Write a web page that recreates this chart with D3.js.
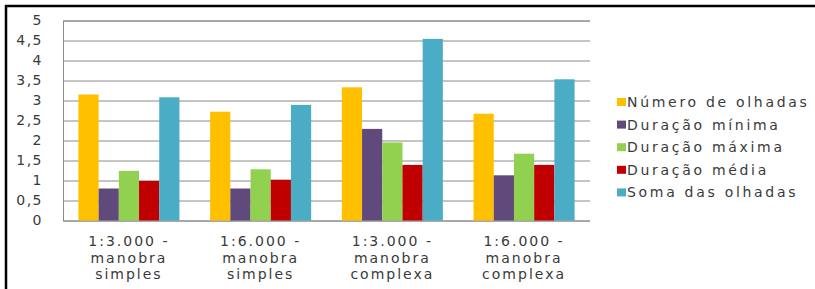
<!DOCTYPE html>
<html>
<head>
<meta charset="utf-8">
<script src="https://cdn.jsdelivr.net/npm/d3@7"></script>
<style>
  body { margin: 0; background: #fff; }
  svg { display: block; }
  text { font-family: "DejaVu Sans", Verdana, sans-serif; fill: #3a3a3a; }
</style>
</head>
<body>
<section></section>
<script>
"use strict";

//Chart size
const w = 815;
const h = 289;

//Data
const groups = [
  ["1:3.000 -", "manobra", "simples"],
  ["1:6.000 -", "manobra", "simples"],
  ["1:3.000 -", "manobra", "complexa"],
  ["1:6.000 -", "manobra", "complexa"],
];
const seriesNames = [
  "Número de olhadas",
  "Duração mínima",
  "Duração máxima",
  "Duração média",
  "Soma das olhadas",
];
const numeroOlhadas = [3.15, 2.72, 3.33, 2.67];
const duracaoMinima = [0.8, 0.8, 2.29, 1.13];
const duracaoMaxima = [1.24, 1.28, 1.95, 1.67];
const duracaoMedia = [0.99, 1.02, 1.39, 1.39];
const somaOlhadas = [3.08, 2.89, 4.54, 3.53];
const yTicks = [0, 0.5, 1, 1.5, 2, 2.5, 3, 3.5, 4, 4.5, 5];

const colors = ["#ffc000", "#604a7b", "#92d050", "#c00000", "#4bacc6"];
const seriesValues = [numeroOlhadas, duracaoMinima, duracaoMaxima, duracaoMedia, somaOlhadas];

const margin = { top: 20.5, left: 63, right: 225, bottom: 68 };

const svg = d3.select("section").append("svg").attr("width", w).attr("height", h);

svg.append("rect").attr("width", w).attr("height", h).attr("fill", "#fff");

//Scales
const x0 = d3
  .scaleBand()
  .domain(d3.range(groups.length))
  .range([margin.left, w - margin.right])
  .paddingInner(0.233)
  .paddingOuter(0.117);

const x1 = d3
  .scaleBand()
  .domain(d3.range(seriesNames.length))
  .range([0, x0.bandwidth()]);

const y = d3
  .scaleLinear()
  .domain([0, 5])
  .range([h - margin.bottom - 0.5, margin.top]);

//Gridlines and y axis
const yAxis = d3
  .axisLeft(y)
  .tickValues(yTicks)
  .tickSize(-(w - margin.right - margin.left))
  .tickPadding(20)
  .tickFormat((d) => String(d).replace(".", ","));

const yAxisG = svg
  .append("g")
  .attr("transform", `translate(${margin.left}, 0)`)
  .call(yAxis);

yAxisG.select(".domain").attr("stroke", "#8a8a8a");
yAxisG.selectAll(".tick line").attr("stroke", "#8a8a8a");
yAxisG
  .selectAll(".tick text")
  .attr("font-size", 14)
  .attr("letter-spacing", "1.5px")
  .attr("fill", "#3a3a3a")
  .attr("font-family", null);

//Bars
const groupG = svg
  .selectAll(".group")
  .data(groups)
  .enter()
  .append("g")
  .attr("class", "group")
  .attr("transform", (d, i) => `translate(${x0(i)}, 0)`);

groupG
  .selectAll("rect")
  .data((d, i) => seriesValues.map((vals, s) => ({ s: s, v: vals[i] })))
  .enter()
  .append("rect")
  .attr("x", (d) => x1(d.s))
  .attr("y", (d) => y(d.v))
  .attr("width", x1.bandwidth())
  .attr("height", (d) => y(0) - y(d.v))
  .attr("fill", (d) => colors[d.s]);

//Category labels
groupG
  .append("text")
  .attr("text-anchor", "middle")
  .attr("font-size", 14)
  .attr("letter-spacing", "2px")
  .attr("x", x0.bandwidth() / 2)
  .attr("y", 246)
  .selectAll("tspan")
  .data((d) => d)
  .enter()
  .append("tspan")
  .attr("x", x0.bandwidth() / 2)
  .attr("dy", (d, i) => (i === 0 ? 0 : 16.5))
  .text((d) => d);

//Legend
const legend = svg
  .append("g")
  .attr("transform", "translate(617, 102)")
  .selectAll("g")
  .data(seriesNames)
  .enter()
  .append("g")
  .attr("transform", (d, i) => `translate(0, ${i * 22.6})`);

legend
  .append("rect")
  .attr("x", 0)
  .attr("y", -4)
  .attr("width", 9)
  .attr("height", 8)
  .attr("fill", (d, i) => colors[i]);

legend
  .append("text")
  .attr("x", 10)
  .attr("y", 5)
  .attr("font-size", 14)
  .attr("letter-spacing", "2.7px")
  .text((d) => d);

//Frame (top and left edges of the crop)
svg.append("line").attr("x1", 5).attr("x2", w).attr("y1", 6).attr("y2", 6).attr("stroke", "#000").attr("stroke-width", 2.5);
svg.append("line").attr("x1", 6).attr("x2", 6).attr("y1", 5).attr("y2", h).attr("stroke", "#000").attr("stroke-width", 2.5);
</script>
</body>
</html>
